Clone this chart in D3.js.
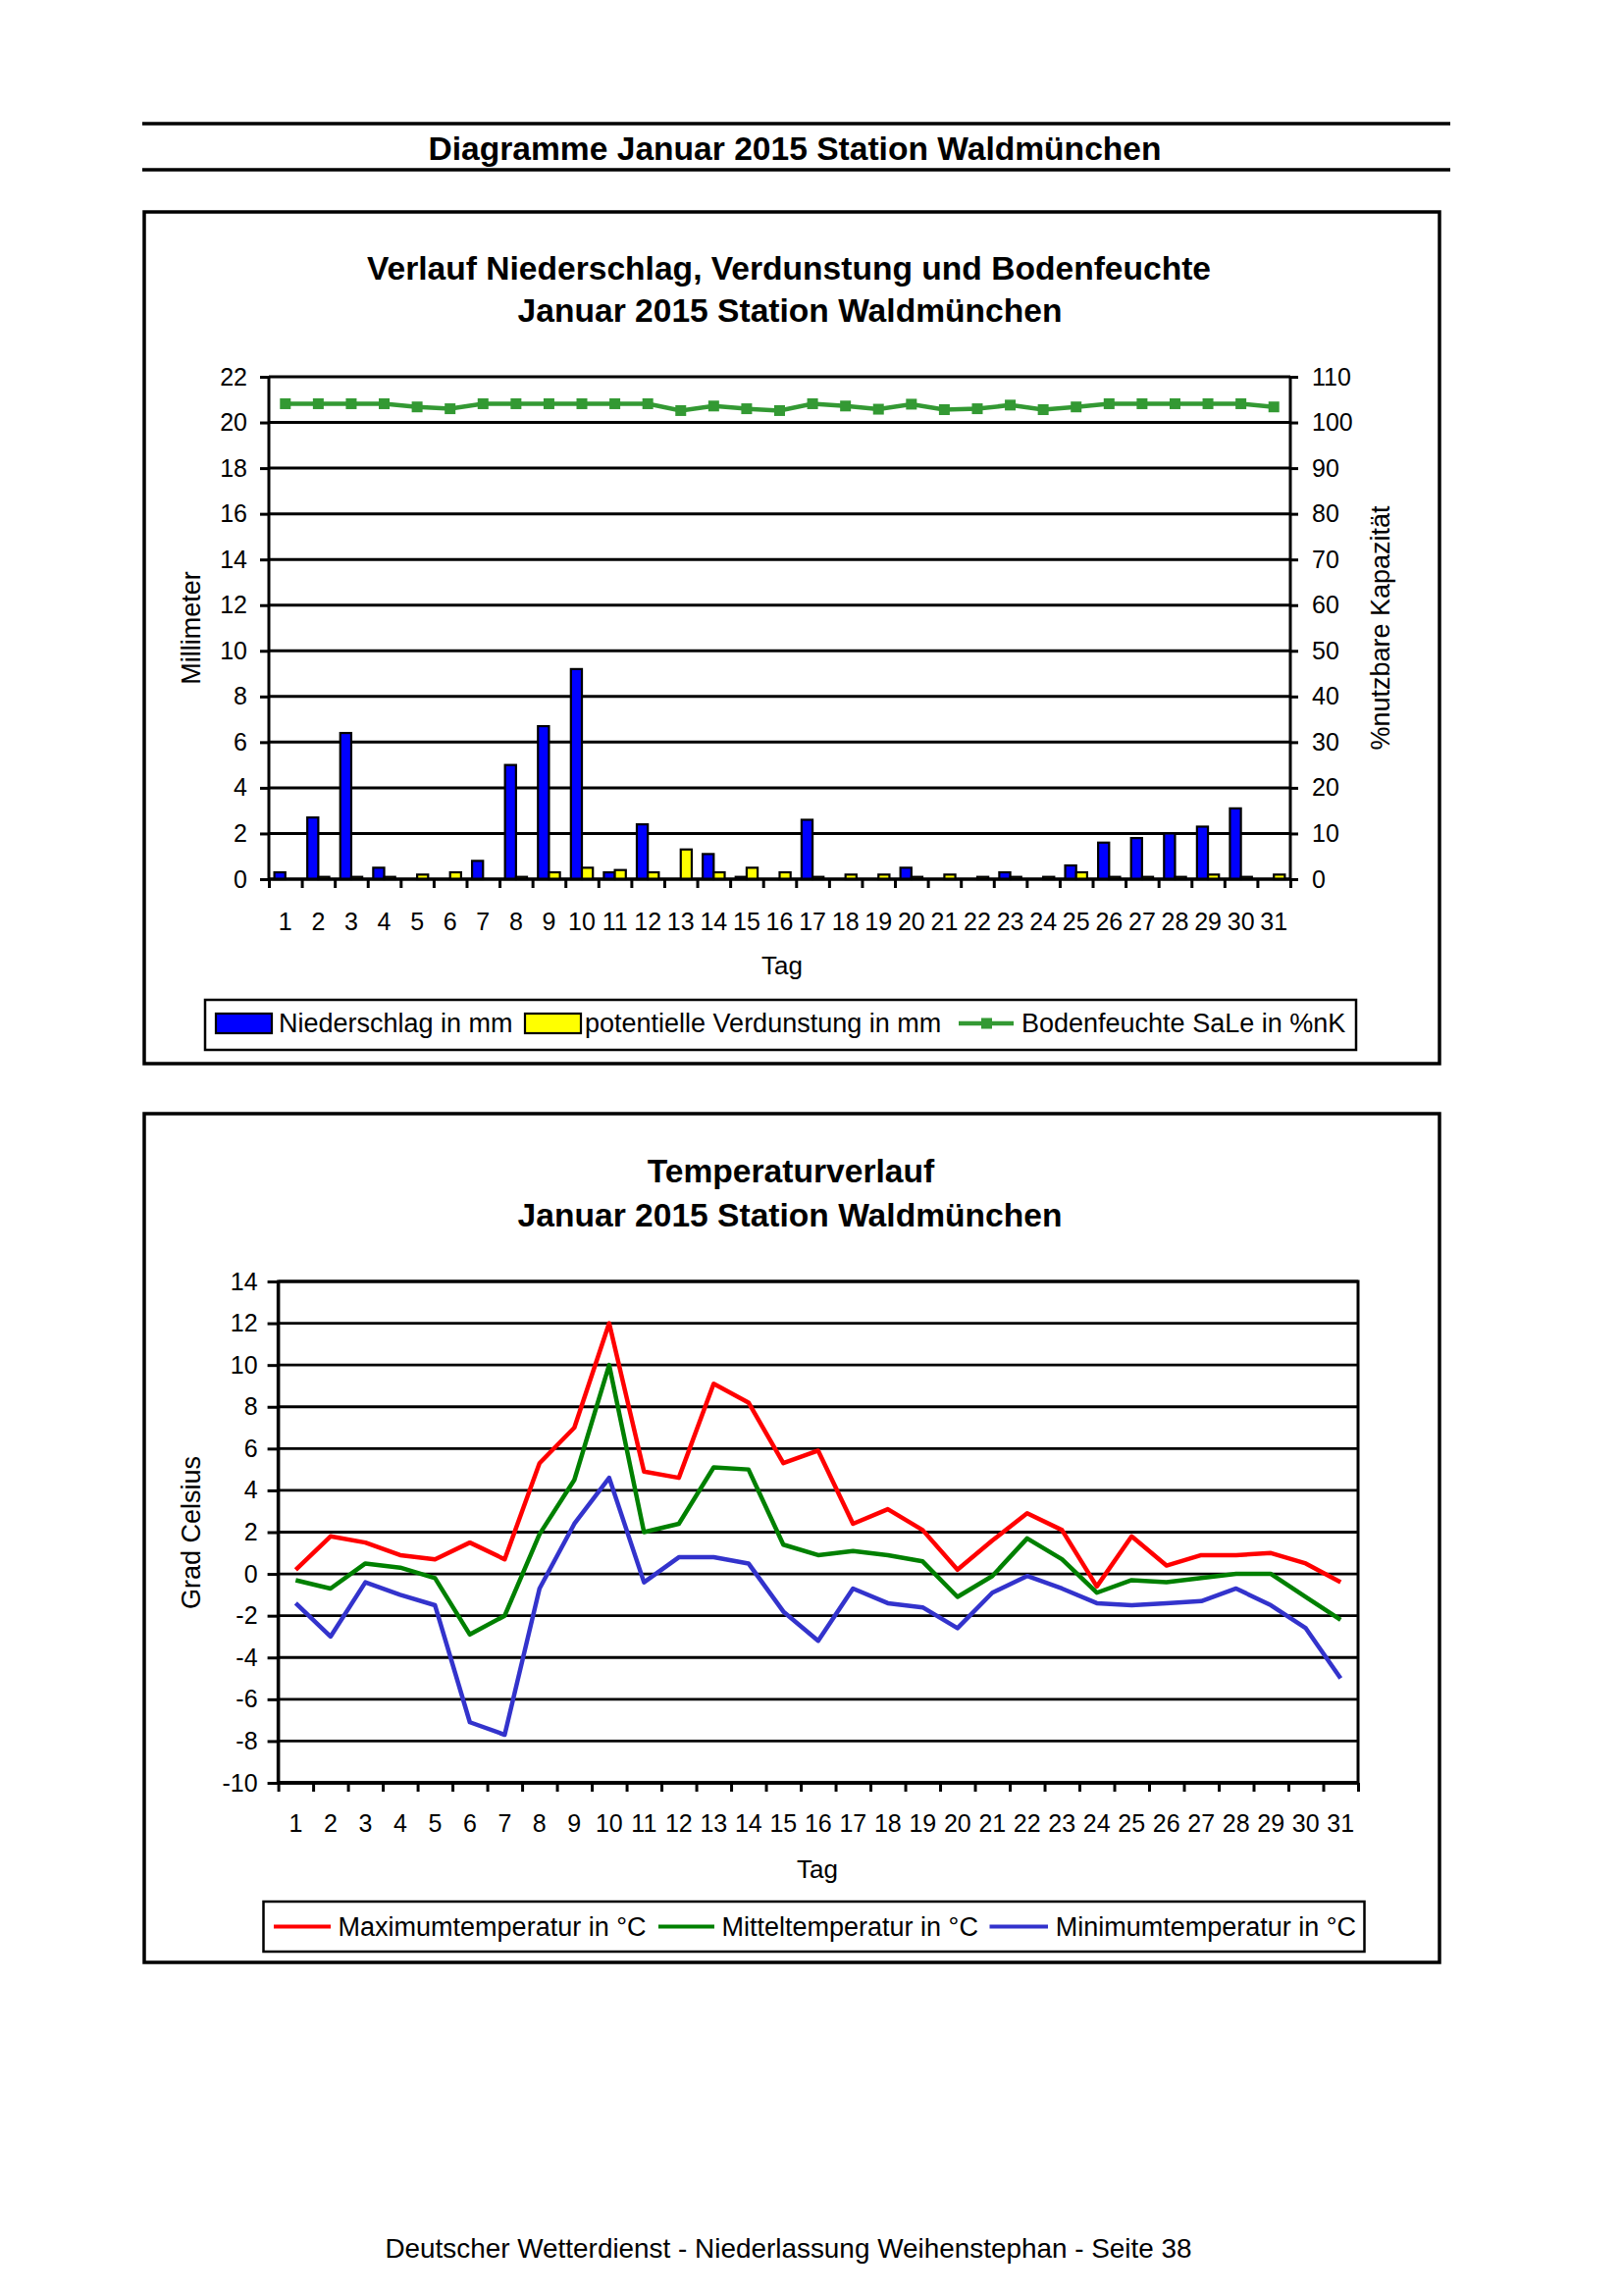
<!DOCTYPE html>
<html><head><meta charset="utf-8">
<script src="https://cdn.jsdelivr.net/npm/d3@7"></script>
<style>
html,body{margin:0;padding:0;background:#fff;}
svg{display:block;font-family:"Liberation Sans",Arial,sans-serif;}
</style></head><body>
<svg id="c" width="1653" height="2340"></svg>
<script>
// ---------- data ----------
const days = ["1","2","3","4","5","6","7","8","9","10","11","12","13","14","15","16","17","18","19","20","21","22","23","24","25","26","27","28","29","30","31"];
const niederschlag = [0.3,2.7,6.4,0.5,0,0,0.8,5.0,6.7,9.2,0.3,2.4,0,1.1,0.1,0,2.6,0,0,0.5,0,0,0.3,0,0.6,1.6,1.8,2.0,2.3,3.1,0];
const verdunstung = [0,0.1,0.1,0.1,0.2,0.3,0,0.1,0.3,0.5,0.4,0.3,1.3,0.3,0.5,0.3,0.1,0.2,0.2,0.1,0.2,0.1,0.1,0.1,0.3,0.1,0.1,0.1,0.2,0.1,0.2];
const bodenfeuchte = [104.1,104.1,104.1,104.1,103.4,103.0,104.1,104.1,104.1,104.1,104.1,104.1,102.6,103.6,103.0,102.6,104.1,103.6,102.9,104.0,102.8,103.0,103.8,102.8,103.4,104.1,104.1,104.1,104.1,104.1,103.4];
const tMax = [0.2,1.8,1.5,0.9,0.7,1.5,0.7,5.3,7.0,12.0,4.9,4.6,9.1,8.2,5.3,5.9,2.4,3.1,2.1,0.2,1.6,2.9,2.1,-0.6,1.8,0.4,0.9,0.9,1.0,0.5,-0.4];
const tMittel = [-0.3,-0.7,0.5,0.3,-0.2,-2.9,-2.0,1.9,4.5,10.0,2.0,2.4,5.1,5.0,1.4,0.9,1.1,0.9,0.6,-1.1,-0.1,1.7,0.7,-0.9,-0.3,-0.4,-0.2,0.0,0.0,-1.1,-2.2];
const tMin = [-1.4,-3.0,-0.4,-1.0,-1.5,-7.1,-7.7,-0.7,2.4,4.6,-0.4,0.8,0.8,0.5,-1.8,-3.2,-0.7,-1.4,-1.6,-2.6,-0.9,-0.1,-0.7,-1.4,-1.5,-1.4,-1.3,-0.7,-1.5,-2.6,-5.0];
const mmTicks = [0,2,4,6,8,10,12,14,16,18,20,22];
const pctTicks = [0,10,20,30,40,50,60,70,80,90,100,110];
const tempTicks = [-10,-8,-6,-4,-2,0,2,4,6,8,10,12,14];

const svg = d3.select("#c");
svg.append("rect").attr("width",1653).attr("height",2340).attr("fill","#fff");

function txt(g, x, y, s, size, opts={}) {
  const t = g.append("text").attr("x",x).attr("y",y).text(s)
    .attr("font-size",size).attr("fill","#000")
    .attr("dominant-baseline","central")
    .attr("text-anchor", opts.anchor || "middle");
  if (opts.bold) t.attr("font-weight","bold");
  if (opts.rot) t.attr("transform",`rotate(-90 ${x} ${y})`);
  return t;
}
function styleAxis(g, size) {
  g.attr("font-family",null).attr("font-size",size);
  g.selectAll("line").attr("stroke","#000").attr("stroke-width",3);
  g.selectAll("path.domain").remove();
  g.selectAll("text").attr("fill","#000");
}
const plain = d => String(d);

// ---------- header ----------
svg.append("line").attr("x1",145).attr("x2",1478).attr("y1",126).attr("y2",126).attr("stroke","#000").attr("stroke-width",3.5);
txt(svg, 810, 151, "Diagramme Januar 2015 Station Waldmünchen", 33.6, {bold:true});
svg.append("line").attr("x1",145).attr("x2",1478).attr("y1",173).attr("y2",173).attr("stroke","#000").attr("stroke-width",3.5);

// ---------- chart 1 ----------
svg.append("rect").attr("x",147).attr("y",216).attr("width",1320).attr("height",868)
  .attr("fill","none").attr("stroke","#000").attr("stroke-width",3.5);
txt(svg, 804, 273, "Verlauf Niederschlag, Verdunstung und Bodenfeuchte", 33.6, {bold:true});
txt(svg, 805, 316, "Januar 2015 Station Waldmünchen", 33.6, {bold:true});

const p1 = {l:274, r:1315, t:384, b:896};
const x0 = d3.scaleBand().domain(days).range([p1.l,p1.r]).padding(0);
const x1 = d3.scaleBand().domain(["n","v"]).range([0,x0.bandwidth()]).paddingInner(0).paddingOuter(0.5);
const xB1 = d3.scaleLinear().domain([0,days.length]).range([p1.l,p1.r]);
const yL = d3.scaleLinear().domain([0,22]).range([p1.b,p1.t]);
const yR = d3.scaleLinear().domain([0,110]).range([p1.b,p1.t]);

const g1 = svg.append("g");
g1.selectAll("line.grid").data(mmTicks).join("line")
  .attr("x1",p1.l).attr("x2",p1.r).attr("y1",d=>yL(d)).attr("y2",d=>yL(d))
  .attr("stroke","#000").attr("stroke-width",3);

const barData = [];
days.forEach((d,i)=>{
  barData.push({day:d, key:"n", v:niederschlag[i], fill:"#0000ff"});
  barData.push({day:d, key:"v", v:verdunstung[i], fill:"#ffff00"});
});
g1.selectAll("rect.bar").data(barData.filter(d=>d.v>0)).join("rect")
  .attr("x",d=>x0(d.day)+x1(d.key)).attr("width",x1.bandwidth())
  .attr("y",d=>yL(d.v)).attr("height",d=>p1.b-yL(d.v))
  .attr("fill",d=>d.fill).attr("stroke","#000").attr("stroke-width",2.2);

const bw = x0.bandwidth();
g1.append("path").datum(bodenfeuchte)
  .attr("d", d3.line().x((v,i)=>x0(days[i])+bw/2).y(v=>yR(v)))
  .attr("fill","none").attr("stroke","#339933").attr("stroke-width",4.5);
g1.selectAll("rect.mk").data(bodenfeuchte).join("rect")
  .attr("x",(v,i)=>x0(days[i])+bw/2-5.5).attr("y",v=>yR(v)-5.5)
  .attr("width",11).attr("height",11).attr("fill","#339933");

// axes
const aL = g1.append("g").attr("transform",`translate(${p1.l},0)`)
  .call(d3.axisLeft(yL).tickValues(mmTicks).tickFormat(plain).tickSize(9).tickSizeOuter(0).tickPadding(13));
styleAxis(aL, 25);
g1.append("line").attr("x1",p1.l).attr("x2",p1.l).attr("y1",p1.t).attr("y2",p1.b).attr("stroke","#000").attr("stroke-width",3);
const aR = g1.append("g").attr("transform",`translate(${p1.r},0)`)
  .call(d3.axisRight(yR).tickValues(pctTicks).tickFormat(plain).tickSize(8).tickSizeOuter(0).tickPadding(14));
styleAxis(aR, 25);
g1.append("line").attr("x1",p1.r).attr("x2",p1.r).attr("y1",p1.t).attr("y2",p1.b).attr("stroke","#000").attr("stroke-width",3);
const aBt = g1.append("g").attr("transform",`translate(0,${p1.b})`)
  .call(d3.axisBottom(xB1).tickValues(d3.range(0,days.length+1)).tickSize(9).tickSizeOuter(0).tickFormat(""));
styleAxis(aBt, 25);
const aBl = g1.append("g").attr("transform",`translate(0,${p1.b})`)
  .call(d3.axisBottom(x0).tickSize(0).tickSizeOuter(0));
styleAxis(aBl, 25);
aBl.selectAll("text").attr("y",42.5).attr("dy",null).attr("dominant-baseline","central");
g1.append("line").attr("x1",p1.l).attr("x2",p1.r).attr("y1",p1.b).attr("y2",p1.b).attr("stroke","#000").attr("stroke-width",3);

txt(svg, 194.5, 640, "Millimeter", 27, {rot:true});
txt(svg, 1407, 640, "%nutzbare Kapazität", 27, {rot:true});
txt(svg, 797, 984, "Tag", 26);

// legend 1
const lg1 = svg.append("g");
lg1.append("rect").attr("x",209).attr("y",1019).attr("width",1173).attr("height",51)
  .attr("fill","#fff").attr("stroke","#000").attr("stroke-width",2.5);
lg1.append("rect").attr("x",220).attr("y",1033).attr("width",57).attr("height",20).attr("fill","#0000ff").attr("stroke","#000").attr("stroke-width",2.2);
txt(lg1, 284, 1043, "Niederschlag in mm", 27, {anchor:"start"});
lg1.append("rect").attr("x",535).attr("y",1033).attr("width",57).attr("height",20).attr("fill","#ffff00").attr("stroke","#000").attr("stroke-width",2.2);
txt(lg1, 596, 1043, "potentielle Verdunstung in mm", 27, {anchor:"start"});
lg1.append("line").attr("x1",977).attr("x2",1033).attr("y1",1043).attr("y2",1043).attr("stroke","#339933").attr("stroke-width",4.5);
lg1.append("rect").attr("x",1000).attr("y",1037.5).attr("width",11).attr("height",11).attr("fill","#339933");
txt(lg1, 1041, 1043, "Bodenfeuchte SaLe in %nK", 27, {anchor:"start"});

// ---------- chart 2 ----------
svg.append("rect").attr("x",147).attr("y",1135).attr("width",1320).attr("height",865)
  .attr("fill","none").attr("stroke","#000").attr("stroke-width",3.5);
txt(svg, 806, 1193.5, "Temperaturverlauf", 33.6, {bold:true});
txt(svg, 805, 1238.3, "Januar 2015 Station Waldmünchen", 33.6, {bold:true});

const p2 = {l:283.6, r:1384, t:1306, b:1817};
const xb2 = d3.scaleBand().domain(days).range([p2.l,p2.r]).padding(0);
const xB2 = d3.scaleLinear().domain([0,days.length]).range([p2.l,p2.r]);
const yT = d3.scaleLinear().domain([-10,14]).range([p2.b,p2.t]);
const g2 = svg.append("g");
g2.selectAll("line.grid").data(tempTicks).join("line")
  .attr("x1",p2.l).attr("x2",p2.r).attr("y1",d=>yT(d)).attr("y2",d=>yT(d))
  .attr("stroke","#000").attr("stroke-width",2.8);
g2.append("rect").attr("x",p2.l).attr("y",p2.t).attr("width",p2.r-p2.l).attr("height",p2.b-p2.t)
  .attr("fill","none").attr("stroke","#000").attr("stroke-width",3);

const series = [
  {vals:tMax, color:"#ff0000", name:"Maximumtemperatur in °C"},
  {vals:tMittel, color:"#008000", name:"Mitteltemperatur in °C"},
  {vals:tMin, color:"#3333cc", name:"Minimumtemperatur in °C"}
];
const bw2 = xb2.bandwidth();
series.forEach(s=>{
  g2.append("path").datum(s.vals)
    .attr("d", d3.line().x((v,i)=>xb2(days[i])+bw2/2).y(v=>yT(v)))
    .attr("fill","none").attr("stroke",s.color).attr("stroke-width",4.5).attr("stroke-linejoin","round");
});

const tL = g2.append("g").attr("transform",`translate(${p2.l},0)`)
  .call(d3.axisLeft(yT).tickValues(tempTicks).tickFormat(plain).tickSize(11).tickSizeOuter(0).tickPadding(10));
styleAxis(tL, 25);
g2.append("line").attr("x1",p2.l).attr("x2",p2.l).attr("y1",p2.t).attr("y2",p2.b).attr("stroke","#000").attr("stroke-width",3.5);
const tBt = g2.append("g").attr("transform",`translate(0,${p2.b})`)
  .call(d3.axisBottom(xB2).tickValues(d3.range(0,days.length+1)).tickSize(9).tickSizeOuter(0).tickFormat(""));
styleAxis(tBt, 25);
const tBl = g2.append("g").attr("transform",`translate(0,${p2.b})`)
  .call(d3.axisBottom(xb2).tickSize(0).tickSizeOuter(0));
styleAxis(tBl, 25);
tBl.selectAll("text").attr("y",40.5).attr("dy",null).attr("dominant-baseline","central");
g2.append("line").attr("x1",p2.l).attr("x2",p2.r).attr("y1",p2.b).attr("y2",p2.b).attr("stroke","#000").attr("stroke-width",3.5);

txt(svg, 194.5, 1562, "Grad Celsius", 27, {rot:true});
txt(svg, 833, 1905, "Tag", 26);

// legend 2
const lg2 = svg.append("g");
lg2.append("rect").attr("x",268.5).attr("y",1938).attr("width",1122).attr("height",51)
  .attr("fill","#fff").attr("stroke","#000").attr("stroke-width",2.5);
const legPos = [{x1:279,x2:337,tx:344.6},{x1:671,x2:728,tx:735.5},{x1:1008.5,x2:1068,tx:1075.7}];
series.forEach((s,i)=>{
  lg2.append("line").attr("x1",legPos[i].x1).attr("x2",legPos[i].x2).attr("y1",1963.5).attr("y2",1963.5)
    .attr("stroke",s.color).attr("stroke-width",4);
  txt(lg2, legPos[i].tx, 1963.5, s.name, 27, {anchor:"start"});
});

// footer
txt(svg, 803.5, 2291.6, "Deutscher Wetterdienst - Niederlassung Weihenstephan - Seite 38", 27.9);
</script>
</body></html>
